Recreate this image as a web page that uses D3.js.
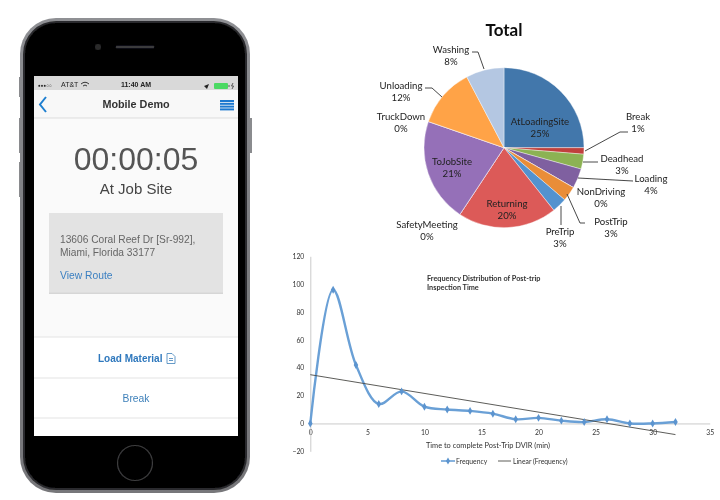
<!DOCTYPE html>
<html><head><meta charset="utf-8">
<script src="https://cdn.jsdelivr.net/npm/d3@7"></script>
<style>
html,body{margin:0;padding:0;background:#fff;overflow:hidden}
svg{display:block}
.soft{filter:url(#soft)}
</style></head><body>
<svg id="c" width="720" height="500" viewBox="0 0 720 500"></svg>
<script>
// ---- pie data
const pieNames  = ["AtLoadingSite","Break","Deadhead","Loading","NonDriving","PostTrip","PreTrip","Returning","SafetyMeeting","ToJobSite","TruckDown","Unloading","Washing"];
const pieValues = [25,1.3,3,4,0,3,3,20,0,21,0,12,7.7];
const pieLabels = ["25%","1%","3%","4%","0%","3%","3%","20%","0%","21%","0%","12%","8%"];
const pieColors = ["#4377ab","#c0413c","#8cb253","#7f60a0","#3ca6c0","#e98d38","#5392cf","#dc5a58","#9bbb59","#9570b8","#46aac4","#ffa347","#b4c7e2"];
const pieTitle  = "Total";
// ---- line chart data
const freqX = [0,2,4,6,8,10,12,14,16,18,20,22,24,26,28,30,32];
const freqY = [0,96,42,14,23,12,10,9,7,3,4,2,1,3,0,0,1];
const trendX = [0,32];
const trendY = [35,-8];
const xTicks = [0,5,10,15,20,25,30,35];
const yTicks = [-20,0,20,40,60,80,100,120];
const chartTitle = ["Frequency Distribution of Post-trip","Inspection Time"];
const xTitle = "Time to complete Post-Trip DVIR (min)";
const legendNames = ["Frequency","Linear (Frequency)"];
// ---- phone text
const addressLines = ["13606 Coral Reef Dr [Sr-992],","Miami, Florida 33177"];

// ---- layout (separate from data)
const pieLayout = {
 AtLoadingSite:[540,121],Break:[638,116],Deadhead:[622,158],Loading:[651,178],NonDriving:[601,191],
 PostTrip:[611,221],PreTrip:[560,231],Returning:[507,203],SafetyMeeting:[427,224],ToJobSite:[452,161],
 TruckDown:[401,116],Unloading:[401,85],Washing:[451,49]};
const leaders = [
 [[472,52],[478,52],[484,69]],[[425,88],[432,88],[442,97]],[[628,132],[620,132],[585,151]],
 [[598,162],[583,162]],[[633,181],[578,178]],[[585,223],[580,223],[567,194]],[[561,225],[561,206]]];

const svg = d3.select("#c");
const sans = "'Liberation Sans',Arial,sans-serif", cal = "Lato,'Open Sans',sans-serif";
svg.append("defs").html(`
 <filter id="soft" x="-5%" y="-5%" width="110%" height="110%"><feGaussianBlur stdDeviation="0.5"/></filter>
 <linearGradient id="rim" x1="0" x2="0" y1="0" y2="1"><stop offset="0" stop-color="#8f9094"/><stop offset="0.5" stop-color="#7b7c80"/><stop offset="1" stop-color="#77777a"/></linearGradient>`);
const root = svg.append("g").attr("class","soft");

// ---- phone
const ph = root.append("g");
[[19,77,3,20],[19,118,3,35],[19,162,3,35],[249,118,3,35]].forEach(b=>ph.append("rect").attr("x",b[0]).attr("y",b[1]).attr("width",b[2]).attr("height",b[3]).attr("fill","#8a8b8e"));
ph.append("rect").attr("x",20).attr("y",18).attr("width",230).attr("height",475).attr("rx",36).attr("fill","url(#rim)");
ph.append("rect").attr("x",23).attr("y",21).attr("width",224).attr("height",469).attr("rx",33).attr("fill","#2b2b2d");
ph.append("rect").attr("x",25).attr("y",23).attr("width",220).attr("height",465).attr("rx",31).attr("fill","#040404");
ph.append("rect").attr("x",34).attr("y",76).attr("width",204).attr("height",360).attr("fill","#fafafa");
ph.append("rect").attr("x",34).attr("y",76).attr("width",204).attr("height",14).attr("fill","#d9d9d9");
ph.append("rect").attr("x",34).attr("y",90).attr("width",204).attr("height",28).attr("fill","#f8f8f8");
ph.append("line").attr("x1",34).attr("x2",238).attr("y1",118).attr("y2",118).attr("stroke","#ddd");
ph.append("rect").attr("x",34).attr("y",337).attr("width",204).attr("height",99).attr("fill","#fff");
[337,378,418].forEach(y=>ph.append("line").attr("x1",34).attr("x2",238).attr("y1",y).attr("y2",y).attr("stroke","#e4e4e4").attr("stroke-width",1.2));
ph.append("rect").attr("x",49).attr("y",214).attr("width",174).attr("height",80).attr("fill","#d6d6d6");
ph.append("rect").attr("x",49).attr("y",213).attr("width",174).attr("height",79.5).attr("fill","#e3e3e3");
ph.append("line").attr("x1",117).attr("x2",153).attr("y1",47).attr("y2",47).attr("stroke","#3a3a3c").attr("stroke-width",2.4).attr("stroke-linecap","round");
ph.append("circle").attr("cx",98).attr("cy",47).attr("r",3).attr("fill","#2a2a2c");
ph.append("circle").attr("cx",135).attr("cy",463).attr("r",17.5).attr("fill","none").attr("stroke","#3c3c3e").attr("stroke-width",1.2);
const T=(x,y,s,size,fill,anchor,weight,fam)=>ph.append("text").attr("x",x).attr("y",y).attr("font-size",size).attr("fill",fill).attr("text-anchor",anchor||"start").attr("font-weight",weight||"normal").attr("font-family",fam||sans).text(s);
T(38,86.5,"●●●○○",4.6,"#222");
T(61,86.5,"AT&T",7,"#222");
T(136,86.5,"11:40 AM",7,"#222","middle","bold");
T(136,108,"Mobile Demo",10.8,"#333","middle","bold");
T(136,170,"00:00:05",32,"#555","middle");
T(136,194,"At Job Site",15,"#444","middle");
addressLines.forEach((s,i)=>T(60,243+i*13,s,10.2,"#666"));
T(60,279,"View Route",10.3,"#3a7fc1");
T(98,362,"Load Material",10,"#2f78bd","start","bold");
T(136,402,"Break",10.3,"#3f81ba","middle");
// status + nav icons
ph.append("path").attr("d","M46 97 L40 104.5 L46 112").attr("fill","none").attr("stroke","#1f7fd0").attr("stroke-width",2);
[0,1,2,3].forEach(i=>ph.append("rect").attr("x",220).attr("y",100+i*2.8).attr("width",14).attr("height",2).attr("fill","#1c78cf"));
ph.append("rect").attr("x",214).attr("y",83).attr("width",14).attr("height",6).attr("rx",1).attr("fill","#4cd964");
ph.append("path").attr("d","M229 85 v2 M233 83 l-1.5 3 h2 l-1.5 3").attr("fill","none").attr("stroke","#222").attr("stroke-width",0.7);
ph.append("path").attr("d","M204 86 l5 -2 l-2 5 z").attr("fill","#222");
ph.append("path").attr("d","M167 353.5 h5 l3 3 v7 h-8 z M169 358.5 h4 M169 360.5 h4").attr("fill","none").attr("stroke","#3f81ba").attr("stroke-width",0.8);
ph.append("path").attr("d","M81 84 q4 -3.5 8 0 M83 86 q2 -2 4 0").attr("fill","none").attr("stroke","#222").attr("stroke-width",0.9);

// ---- pie
const pieG = root.append("g").attr("transform","translate(504,147.7)");
const arcs = d3.pie().sort(null).value(d=>d)(pieValues);
const arc = d3.arc().innerRadius(0).outerRadius(80);
pieG.selectAll("path").data(arcs).join("path").attr("d",arc).attr("fill",(d,i)=>pieColors[i]).attr("stroke","#fff").attr("stroke-width",0.4);
root.append("g").selectAll("path").data(leaders).join("path").attr("d",d3.line()).attr("fill","none").attr("stroke","#333").attr("stroke-width",0.9);
const lab = root.append("g").attr("font-family",cal).attr("font-size",9.6).attr("fill","#222").attr("text-anchor","middle");
pieNames.forEach((n,i)=>{const p=pieLayout[n];
 const t=lab.append("text").attr("x",p[0]).attr("y",p[1]+3.5);
 t.append("tspan").text(n);
 t.append("tspan").attr("x",p[0]).attr("dy",12).text(pieLabels[i]);});
root.append("text").attr("x",504).attr("y",36).attr("text-anchor","middle").attr("font-family",cal).attr("font-weight","bold").attr("font-size",17).attr("fill","#111").text(pieTitle);

// ---- line chart
const x = d3.scaleLinear().domain([0,35]).range([310.3,709.7]);
const y = d3.scaleLinear().domain([-20,120]).range([451.3,256.3]);
const g = root.append("g").attr("font-family",cal);
const ax = g.append("g").attr("transform",`translate(0,${y(0)})`).call(d3.axisBottom(x).tickValues(xTicks).tickSize(0).tickPadding(7));
const ay = g.append("g").attr("transform",`translate(${x(0)},0)`).call(d3.axisLeft(y).tickValues(yTicks).tickSize(0).tickPadding(6));
[ax,ay].forEach(a=>{a.select(".domain").attr("stroke","#bdbdbd").attr("stroke-width",0.8);a.selectAll("text").attr("font-family",cal).attr("font-size",6.8).attr("fill","#333");});
const pts = freqX.map((v,i)=>[v,freqY[i]]);
const line = d3.line().x(d=>x(d[0])).y(d=>y(d[1]));
g.append("path").attr("d",line.curve(d3.curveCatmullRom.alpha(0.5))(pts)).attr("fill","none").attr("stroke","#6aa0d6").attr("stroke-width",2.4);
g.append("path").attr("d",d3.line().x(d=>x(d[0])).y(d=>y(d[1]))(trendX.map((v,i)=>[v,trendY[i]]))).attr("fill","none").attr("stroke","#4a4a46").attr("stroke-width",0.9);
g.selectAll("path.m").data(pts).join("path").attr("class","m").attr("transform",d=>`translate(${x(d[0])},${y(d[1])})`).attr("d",d3.symbol(d3.symbolDiamond,18)).attr("fill","#5b94cf");
g.append("text").attr("font-size",7.3).attr("font-weight","bold").attr("fill","#333").selectAll("tspan").data(chartTitle).join("tspan").attr("x",427).attr("y",(d,i)=>280.5+i*9.5).text(d=>d);
g.append("text").attr("x",488).attr("y",448).attr("text-anchor","middle").attr("font-size",7.4).attr("fill","#333").text(xTitle);
g.append("line").attr("x1",441).attr("x2",455).attr("y1",461).attr("y2",461).attr("stroke","#6aa0d6").attr("stroke-width",1.6);
g.append("path").attr("transform","translate(448,461)").attr("d",d3.symbol(d3.symbolDiamond,14)).attr("fill","#5b94cf");
g.append("line").attr("x1",498).attr("x2",511).attr("y1",461).attr("y2",461).attr("stroke","#4a4a46").attr("stroke-width",0.9);
g.append("text").attr("x",456).attr("y",464).attr("font-size",6.8).attr("fill","#333").text(legendNames[0]);
g.append("text").attr("x",513).attr("y",464).attr("font-size",6.8).attr("fill","#333").text(legendNames[1]);
</script></body></html>
